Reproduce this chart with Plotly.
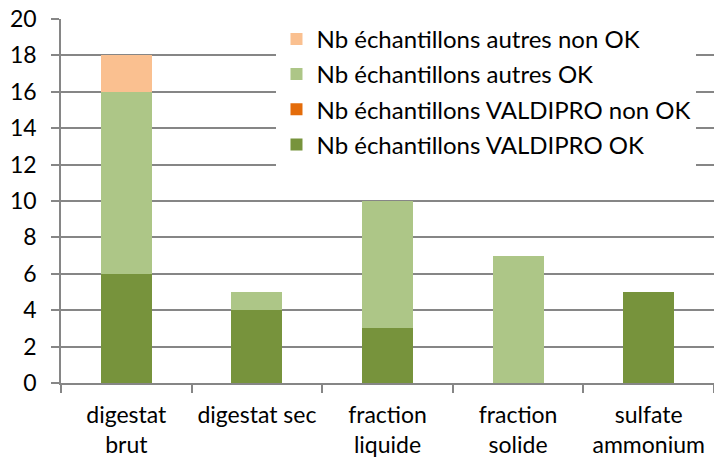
import plotly.graph_objects as go

categories = ["digestat<br>brut", "digestat sec", "fraction<br>liquide", "fraction<br>solide", "sulfate<br>ammonium"]
valdipro_ok = [6, 4, 3, 0, 5]
valdipro_non_ok = [0, 0, 0, 0, 0]
autres_ok = [10, 1, 7, 7, 0]
autres_non_ok = [2, 0, 0, 0, 0]

series = [
    ("Nb échantillons VALDIPRO OK", valdipro_ok, "#77933C"),
    ("Nb échantillons VALDIPRO non OK", valdipro_non_ok, "#E46C0A"),
    ("Nb échantillons autres OK", autres_ok, "#ADC687"),
    ("Nb échantillons autres non OK", autres_non_ok, "#FAC090"),
]

FONT = "Lato"
fig = go.Figure()
for i, (name, vals, col) in enumerate(series):
    fig.add_trace(go.Bar(
        x=categories, y=vals, name=name, legendgroup=f"g{i}",
        legendrank=1000 - i,
        marker=dict(color=col, line=dict(width=0)),
    ))

fig.update_layout(
    width=714, height=461,
    barmode="stack", bargap=0.61,
    paper_bgcolor="white", plot_bgcolor="white",
    margin=dict(l=61, r=0, t=19, b=78),
    font=dict(family=FONT, size=24, color="black"),
    legend=dict(
        x=0.33, y=1.006, xanchor="left", yanchor="top",
        bgcolor="white", traceorder="grouped", tracegroupgap=1,
        font=dict(family=FONT, size=24, color="black"),
        itemwidth=30,
    ),
    showlegend=True,
)
fig.update_yaxes(
    range=[0, 20], dtick=2, showgrid=True, gridcolor="#868686", gridwidth=1.5,
    showline=True, linecolor="#868686", linewidth=1.5,
    ticks="outside", ticklen=8, tickcolor="#868686", tickwidth=1.5,
    zeroline=False, ticklabelstandoff=10, automargin=False,
    tickfont=dict(size=23),
)
fig.update_xaxes(
    showline=True, linecolor="#868686", linewidth=1.5,
    ticks="outside", ticklen=8, tickcolor="#868686", tickwidth=1.5,
    tickson="boundaries", ticklabelstandoff=11, automargin=False,
    tickangle=0, tickfont=dict(size=23),
)
fig.write_html(
    "out.html",
    config={"displayModeBar": False},
    post_script="document.body.style.margin='0';",
)
